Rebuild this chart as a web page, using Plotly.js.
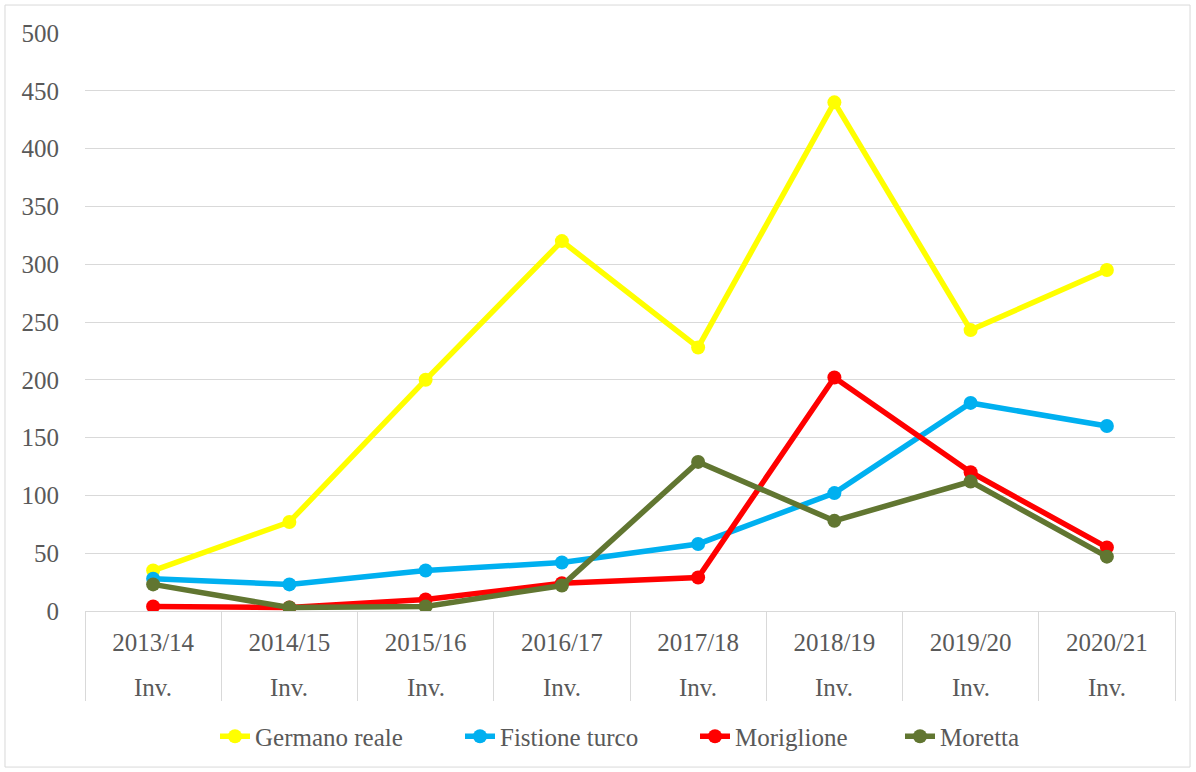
<!DOCTYPE html>
<html>
<head>
<meta charset="utf-8">
<script src="https://cdn.plot.ly/plotly-3.0.1.min.js"></script>
<style>
  html, body { margin: 0; padding: 0; background: #fff; }
  #chart { width: 1196px; height: 772px; }
</style>
</head>
<body>
<div id="chart"></div>
<script>
/** ---------------- data ---------------- **/
let seasons = ["2013/14", "2014/15", "2015/16", "2016/17", "2017/18", "2018/19", "2019/20", "2020/21"];
let subLabel = "Inv.";

let germano = [35, 77, 200, 320, 228, 440, 243, 295];
let fistione = [28, 23, 35, 42, 58, 102, 180, 160];
let moriglione = [4, 3, 10, 24, 29, 202, 120, 55];
let moretta = [23, 3, 4, 22, 129, 78, 112, 47];

let names = ["Germano reale", "Fistione turco", "Moriglione", "Moretta"];
let colors = ["#ffff00", "#00b0f0", "#ff0000", "#617631"];
let series = [germano, fistione, moriglione, moretta];

let yTicks = [0, 50, 100, 150, 200, 250, 300, 350, 400, 450, 500];

// where each legend entry's text starts (px), one legend per series
let legendTextX = [255, 500, 735, 940];

/** ---------------- traces ---------------- **/
let traces = [];
for (let i = 0; i < series.length; i++) {
    traces.push({
        x: seasons,
        y: series[i],
        type: "scatter",
        mode: "lines+markers",
        name: names[i],
        legend: i === 0 ? "legend" : "legend" + (i + 1),
        line: {color: colors[i], width: 5.5},
        marker: {color: colors[i], size: 14},
        hoverinfo: "skip"
    });
}

let font = {family: "Liberation Serif", size: 25, color: "#595959"};

// second row of the category axis ("Inv." under every season)
let annots = seasons.map(function (s) {
    return {
        x: s, xref: "x",
        y: -0.1315, yref: "paper",
        yanchor: "middle",
        text: subLabel,
        showarrow: false,
        font: font
    };
});

let layout = {
    width: 1196,
    height: 772,
    margin: {l: 85, r: 21, t: 33, b: 161},
    paper_bgcolor: "#ffffff",
    plot_bgcolor: "#ffffff",
    font: font,
    showlegend: true,
    xaxis: {
        type: "category",
        range: [-0.5, seasons.length - 0.5],
        showgrid: false,
        zeroline: false,
        showline: true,
        linecolor: "#d9d9d9",
        linewidth: 1,
        ticks: "outside",
        tickson: "boundaries",
        ticklen: 89,
        tickcolor: "#d9d9d9",
        tickwidth: 1,
        ticklabelstandoff: 9,
        tickfont: font,
        fixedrange: true
    },
    yaxis: {
        range: [0, 500],
        tickvals: yTicks,
        showgrid: true,
        gridcolor: "#d9d9d9",
        gridwidth: 1,
        zeroline: false,
        showline: false,
        ticks: "outside",
        ticklen: 20,
        tickcolor: "rgba(0,0,0,0)",
        tickfont: font,
        fixedrange: true
    },
    annotations: annots,
    shapes: [{
        // outer chart frame
        type: "rect", xref: "paper", yref: "paper",
        x0: -0.0734, x1: 1.0138, y0: -0.27, y1: 1.0484,
        line: {color: "#d9d9d9", width: 1}
    }]
};

// one legend box per series so the entries sit where they do in the picture
for (let i = 0; i < names.length; i++) {
    let key = i === 0 ? "legend" : "legend" + (i + 1);
    layout[key] = {
        orientation: "h",
        x: (legendTextX[i] - 40 - 85) / 1090,
        xanchor: "left",
        y: -0.217, yanchor: "middle",
        font: font,
        bgcolor: "rgba(0,0,0,0)"
    };
}

Plotly.newPlot("chart", traces, layout, {displayModeBar: false, staticPlot: true});
</script>
</body>
</html>
